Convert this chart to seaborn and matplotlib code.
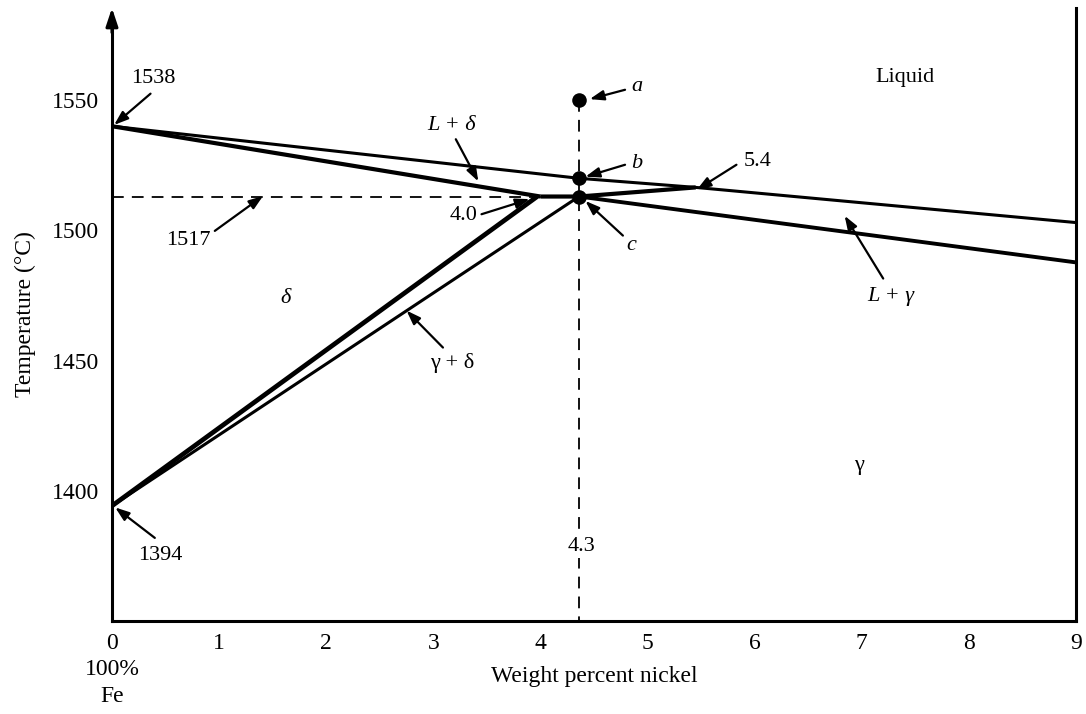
import matplotlib
matplotlib.use("Agg")
import matplotlib.pyplot as plt
import seaborn as sns
import pandas as pd

# ---------------- data ----------------
liquidus_x = [0.0, 4.36, 5.45, 9.0]
liquidus_t = [1540.0, 1520.0, 1516.5, 1503.0]

delta_solidus_x = [0.0, 4.0]
delta_solidus_t = [1540.0, 1513.0]

peritectic_x = [4.0, 4.36, 5.45]
peritectic_t = [1513.0, 1513.0, 1516.5]

gamma_solidus_x = [4.36, 9.0]
gamma_solidus_t = [1513.0, 1487.7]

delta_solvus_x = [0.0, 3.97]
delta_solvus_t = [1394.2, 1513.0]

gamma_solvus_x = [0.0, 4.36]
gamma_solvus_t = [1394.2, 1513.0]

dash_h_x = [0.0, 4.36]
dash_h_t = [1513.0, 1513.0]
dash_v_x = [4.36, 4.36]
dash_v_t = [1550.0, 1350.0]

point_names = ["a", "b", "c"]
point_x = [4.36, 4.36, 4.36]
point_t = [1550.0, 1520.0, 1513.0]

x_ticks = [0, 1, 2, 3, 4, 5, 6, 7, 8, 9]
y_ticks = [1400, 1450, 1500, 1550]

# ---------------- style ----------------
sns.set_theme(style="white")
plt.rcParams["font.family"] = ["Liberation Serif", "DejaVu Serif"]
plt.rcParams["text.color"] = "black"
plt.rcParams["axes.labelcolor"] = "black"
plt.rcParams["xtick.color"] = "black"
plt.rcParams["ytick.color"] = "black"

fig = plt.figure(figsize=(10.86, 7.14), dpi=100)
ax = fig.add_axes([0.1031, 0.1303, 0.8877, 0.8585])
ax.set_xlim(0, 9)
ax.set_ylim(1350, 1585.4)


def line(x, t, lw, ls="-"):
    df = pd.DataFrame({"x": x, "t": t})
    sns.lineplot(data=df, x="x", y="t", ax=ax, sort=False, estimator=None,
                 color="black", lw=lw, linestyle=ls, solid_capstyle="butt")


line(dash_h_x, dash_h_t, 1.3, (0, (6.5, 4.5)))
line(dash_v_x, dash_v_t, 1.3, (0, (6.5, 4.5)))
line(liquidus_x, liquidus_t, 2.2)
line(delta_solidus_x, delta_solidus_t, 3.0)
line(peritectic_x, peritectic_t, 3.0)
line(gamma_solidus_x, gamma_solidus_t, 2.8)
line(delta_solvus_x, delta_solvus_t, 3.4)
line(gamma_solvus_x, gamma_solvus_t, 2.2)

pts = pd.DataFrame({"x": point_x, "t": point_t, "n": point_names})
sns.scatterplot(data=pts, x="x", y="t", ax=ax, color="black", s=110,
                edgecolor="black", linewidth=0, zorder=5, legend=False)

# ---------------- annotations ----------------
arrow = dict(arrowstyle="-|>,head_length=0.7,head_width=0.25", color="black",
             lw=1.6, shrinkA=0, shrinkB=0)
fs = 16


def ann(text, xy, xytext, tail, **kw):
    ax.annotate("", xy=xy, xytext=tail, arrowprops=arrow)
    ax.text(xytext[0], xytext[1], text, ha="center", va="center",
            fontsize=fs, color="black", **kw)


ann("1538", (0.02, 1540.5), (0.39, 1558.5), (0.36, 1552.5))
ann("1517", (1.41, 1513.2), (0.71, 1496.0), (0.96, 1499.8))
ann("4.0", (3.9, 1512.0), (3.28, 1505.8), (3.45, 1506.2))
ann("a", (4.46, 1550.4), (4.90, 1555.4), (4.79, 1554.0), style="italic")
ann("b", (4.42, 1520.6), (4.90, 1525.8), (4.79, 1525.2), style="italic")
ann("c", (4.42, 1511.3), (4.85, 1494.0), (4.77, 1498.0), style="italic")
ann("L + δ", (3.42, 1518.8), (3.17, 1540.4), (3.21, 1535.0), style="italic")
ann("5.4", (5.46, 1515.6), (6.03, 1526.5), (5.83, 1525.2))
ann("L + γ", (6.84, 1505.6), (7.27, 1474.6), (7.20, 1481.5), style="italic")
ann("γ + δ", (2.75, 1469.2), (3.18, 1449.0), (3.09, 1455.0))
ann("1394", (0.03, 1393.6), (0.45, 1375.0), (0.40, 1381.9))

ax.text(7.40, 1558.8, "Liquid", ha="center", va="center", fontsize=fs)
ax.text(1.62, 1474.0, "δ", ha="center", va="center", fontsize=fs, style="italic")
ax.text(6.97, 1409.6, "γ", ha="center", va="center", fontsize=fs)
ax.text(4.38, 1378.5, "4.3", ha="center", va="center", fontsize=fs, zorder=6,
        bbox=dict(boxstyle="square,pad=0.1", fc="white", ec="none"))

# ---------------- axes ----------------
ax.set_xticks(x_ticks)
ax.set_xticklabels([str(v) for v in x_ticks])
ax.set_yticks(y_ticks)
ax.set_yticklabels([str(v) for v in y_ticks])
ax.tick_params(axis="both", direction="in", length=12, width=2, color="black",
               labelsize=17, labelcolor="black")
ax.tick_params(axis="x", pad=9)
ax.tick_params(axis="y", pad=9)

ax.set_xlabel("Weight percent nickel", fontsize=17, color="black", labelpad=8)
ax.set_ylabel("Temperature (°C)", fontsize=17, color="black", labelpad=12)

ax.text(0, -0.062, "100%\nFe", transform=ax.get_xaxis_transform(),
        ha="center", va="top", fontsize=17, linespacing=1.35, color="black")

for side in ["left", "right", "bottom"]:
    ax.spines[side].set_color("black")
    ax.spines[side].set_linewidth(2.2)
ax.spines["top"].set_visible(False)
ax.spines["left"].set_bounds(1350, 1581)

ax.annotate("", xy=(0, 1.0), xycoords="axes fraction",
            xytext=(0, 0.96), textcoords="axes fraction",
            arrowprops=dict(arrowstyle="-|>,head_length=0.9,head_width=0.3",
                            color="black", lw=2.2, shrinkA=0, shrinkB=0))

ax.set_facecolor("white")
fig.patch.set_facecolor("white")
fig.savefig("out.png", dpi=100)
